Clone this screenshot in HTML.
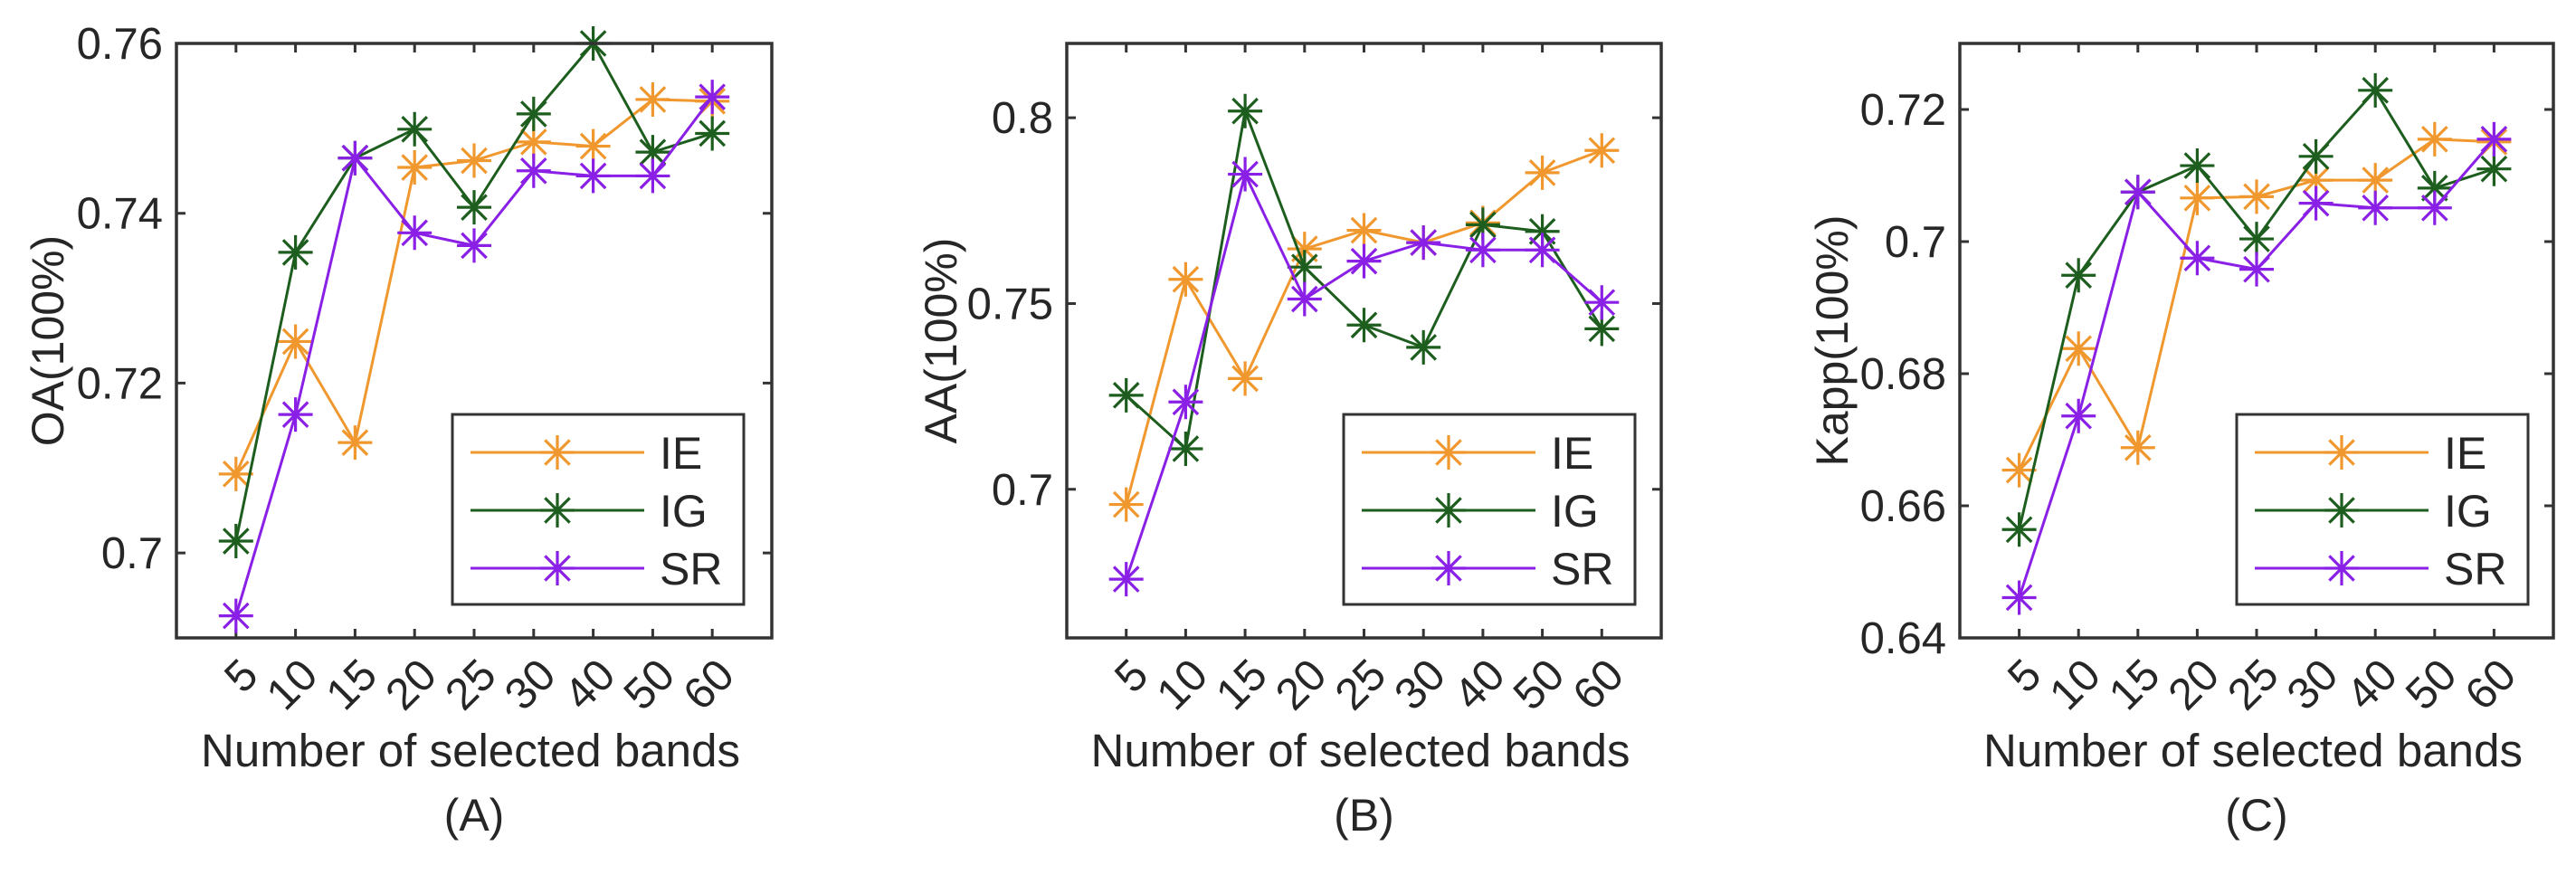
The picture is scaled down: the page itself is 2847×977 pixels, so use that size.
<!DOCTYPE html>
<html><head><meta charset="utf-8"><style>
html,body{margin:0;padding:0;background:#fff;}
svg text{font-family:"Liberation Sans",Arial,sans-serif;fill:#262626;}
</style></head><body>
<svg id="fig" width="2847" height="972" viewBox="0 0 2847 972" xmlns="http://www.w3.org/2000/svg"></svg>
<script>
const categories = ["5","10","15","20","25","30","40","50","60"];
const seriesNames = ["IE","IG","SR"];
const oaIE = [0.7093,0.7249,0.7130,0.7454,0.7462,0.7484,0.7479,0.7534,0.7532];
const oaIG = [0.7014,0.7354,0.7465,0.7499,0.7407,0.7517,0.7600,0.7472,0.7494];
const oaSR = [0.6926,0.7163,0.7465,0.7377,0.7362,0.7450,0.7444,0.7444,0.7537];
const aaIE = [0.6959,0.7565,0.7298,0.7647,0.7697,0.7664,0.7717,0.7852,0.7912];
const aaIG = [0.7253,0.7109,0.8018,0.7598,0.7442,0.7382,0.7712,0.7694,0.7432];
const aaSR = [0.6758,0.7235,0.7848,0.7512,0.7614,0.7664,0.7644,0.7644,0.7503];
const kIE = [0.6654,0.6838,0.6688,0.7066,0.7068,0.7093,0.7093,0.7155,0.7151];
const kIG = [0.6564,0.6949,0.7075,0.7115,0.7004,0.7129,0.7229,0.7081,0.7110];
const kSR = [0.6461,0.6736,0.7075,0.6975,0.6958,0.7058,0.7051,0.7051,0.7155];
const oaTicks = [0.70,0.72,0.74,0.76];
const oaTickLabels = ["0.7","0.72","0.74","0.76"];
const aaTicks = [0.70,0.75,0.80];
const aaTickLabels = ["0.7","0.75","0.8"];
const kTicks = [0.64,0.66,0.68,0.70,0.72];
const kTickLabels = ["0.64","0.66","0.68","0.7","0.72"];

const colors = ["#F0982E","#1D5E1F","#8A1FE6"];
const NS = "http://www.w3.org/2000/svg";
const svg = document.getElementById("fig");
function mk(tag, attrs, parent){const e=document.createElementNS(NS,tag);for(const k in attrs)e.setAttribute(k,attrs[k]);(parent||svg).appendChild(e);return e;}

function panel(cfg){
  const g = mk("g",{});
  
  
  const L=cfg.left,R=cfg.right,T=48,B=705;
  const xs = i => L + (i+1)/10*(R-L);
  const ys = v => B - (v-cfg.ymin)/(cfg.ymax-cfg.ymin)*(B-T);
  cfg.ticks.forEach((t,i)=>{
    const y=ys(t);
    const tk=mk("path",{d:`M${L},${y}h10M${R},${y}h-10`,stroke:"#333","stroke-width":3},g);
    
    
    const tl=mk("text",{x:L-15,y:y+17,"text-anchor":"end","font-size":49},g);
    tl.textContent=cfg.tickLabels[i];
    
    
  });
  categories.forEach((c,i)=>{
    const x=xs(i);
    const tk=mk("path",{d:`M${x},${B}v-10M${x},${T}v10`,stroke:"#333","stroke-width":3},g);
    
    
    const tl=mk("text",{"text-anchor":"end","font-size":49,transform:`translate(${x+27},${B+44}) rotate(-45)`},g);
    tl.textContent=c;
    
    
  });
  cfg.series.forEach((data,s)=>{
    const pts=data.map((v,i)=>xs(i)+","+ys(v)).join(" ");
    const ln=mk("polyline",{points:pts,fill:"none",stroke:colors[s],"stroke-width":3},g);
    
    
    data.forEach((v,i)=>{
      const m=star(xs(i),ys(v),colors[s],g);
      
      
    });
  });
  const box=mk("rect",{x:L,y:T,width:R-L,height:B-T,fill:"none",stroke:"#333","stroke-width":3.5},g);
  
  
  const lx=cfg.legendX, ly=458;
  const lg=mk("g",{},g);
  
  
  mk("rect",{x:lx,y:ly,width:322,height:210,fill:"#fff",stroke:"#333","stroke-width":3},lg);
  seriesNames.forEach((n,s)=>{
    const y=ly+42+s*64;
    const e=mk("g",{},lg);
    
    
    mk("line",{x1:lx+20,y1:y,x2:lx+212,y2:y,stroke:colors[s],"stroke-width":3},e);
    star(lx+116,y,colors[s],e);
    const t=mk("text",{x:lx+229,y:y+18,"font-size":50},e);
    t.textContent=n;
  });
  const xt=mk("text",{x:(L+R)/2-4,y:847,"text-anchor":"middle","font-size":51,textLength:596,lengthAdjust:"spacingAndGlyphs"},g);
  xt.textContent="Number of selected bands";
  
  
  const yt=mk("text",{"text-anchor":"middle","font-size":50,transform:`translate(${cfg.ytX},${(T+B)/2}) rotate(-90)`},g);
  yt.textContent=cfg.ytitle;
  
  
  const cap=mk("text",{x:(L+R)/2,y:918,"text-anchor":"middle","font-size":50},g);
  cap.textContent=cfg.caption;
  
  
}
function star(x,y,c,parent){
  const r=19,d=r*0.72;
  return mk("path",{d:`M${x-r},${y}h${2*r}M${x},${y-r}v${2*r}M${x-d},${y-d}l${2*d},${2*d}M${x-d},${y+d}l${2*d},${-2*d}`,stroke:c,"stroke-width":3.2,fill:"none"},parent);
}
panel({id:"oa",left:195,right:853,ymin:0.69,ymax:0.76,ticks:oaTicks,tickLabels:oaTickLabels,series:[oaIE,oaIG,oaSR],legendX:500,ytitle:"OA(100%)",ytX:70,caption:"(A)"});
panel({id:"aa",left:1179,right:1836,ymin:0.66,ymax:0.82,ticks:aaTicks,tickLabels:aaTickLabels,series:[aaIE,aaIG,aaSR],legendX:1485,ytitle:"AA(100%)",ytX:1057,caption:"(B)"});
panel({id:"kappa",left:2166,right:2822,ymin:0.64,ymax:0.73,ticks:kTicks,tickLabels:kTickLabels,series:[kIE,kIG,kSR],legendX:2472,ytitle:"Kapp(100%)",ytX:2042,caption:"(C)"});
</script>
</body></html>
